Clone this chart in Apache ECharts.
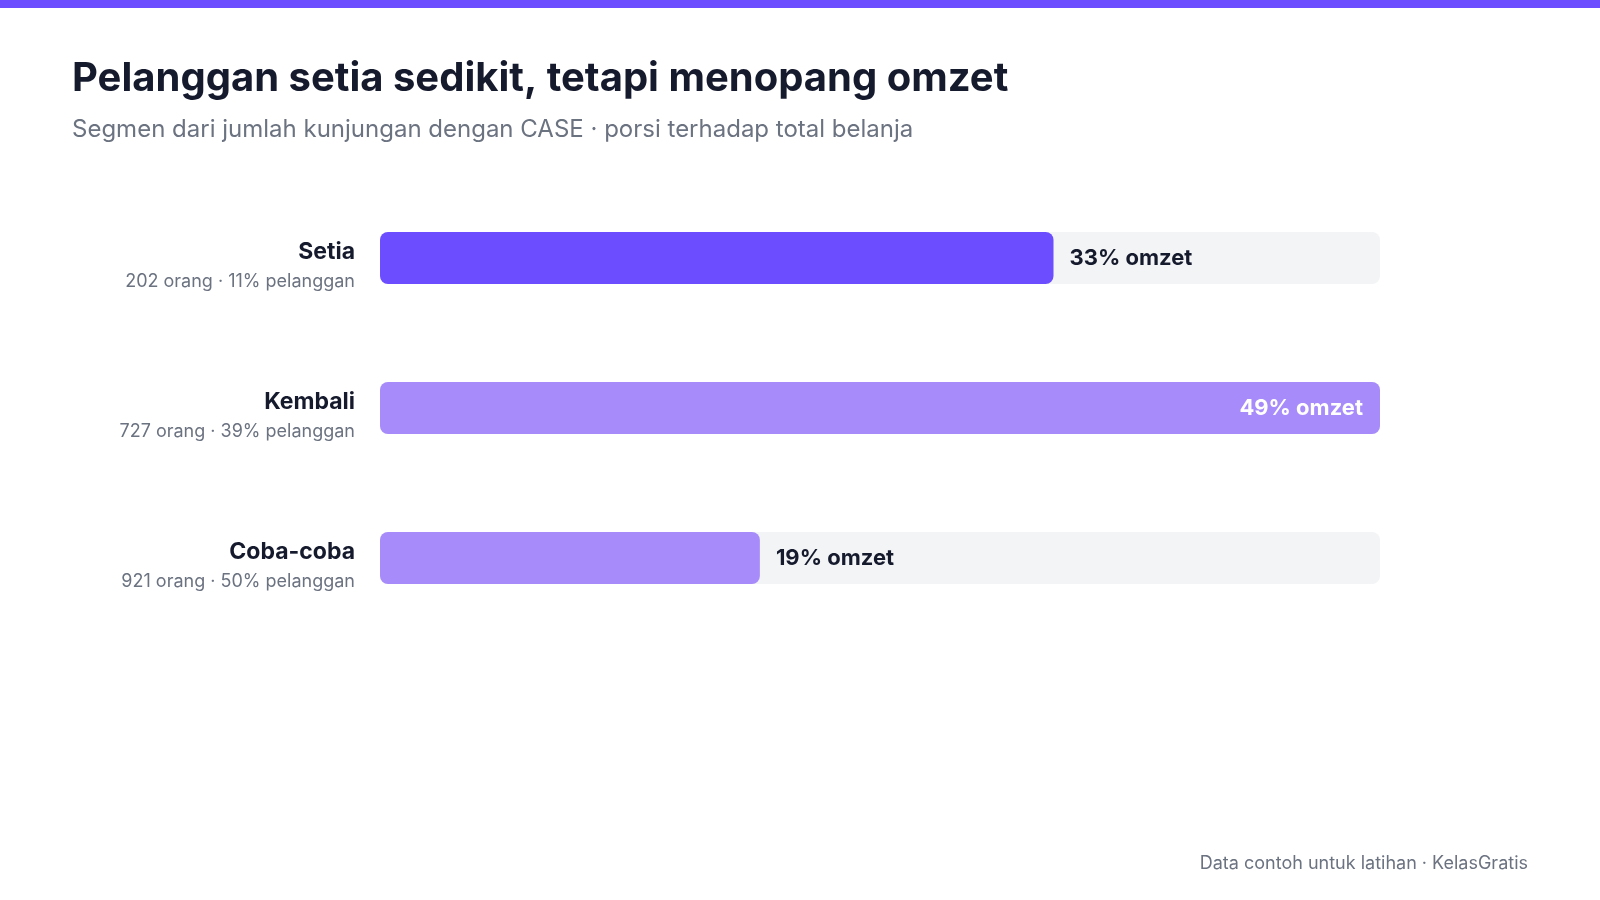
<!DOCTYPE html>
<html>
<head>
<meta charset="utf-8">
<script src="https://cdn.jsdelivr.net/npm/echarts@6/dist/echarts.min.js"></script>
<style>
  html, body { margin: 0; padding: 0; background: #fff; }
  #chart { width: 1600px; height: 900px; }
</style>
</head>
<body>
<div id="chart"></div>
<script>
// data
const segments = ['Setia', 'Kembali', 'Coba-coba'];
const customers = [202, 727, 921];
const customerShare = [11, 39, 50];
const revenueShare = [32.8, 48.7, 18.5];

const FONT = 'Inter, "Noto Sans", sans-serif';
const trackMax = Math.max(...revenueShare);

const chart = echarts.init(document.getElementById('chart'), null, { renderer: 'canvas' });

// label per bar: full bar gets label inside, others outside
const barData = revenueShare.map((v, i) => {
  const full = v === trackMax;
  return {
    value: v,
    itemStyle: { color: i === 0 ? '#6c4dff' : '#a78bfa' },
    label: full
      ? { position: 'insideRight', distance: 17, color: '#ffffff' }
      : { position: 'right', distance: 16, color: '#151a2d' }
  };
});

chart.setOption({
  animation: false,
  backgroundColor: '#ffffff',
  graphic: [
    { type: 'rect', left: 0, top: 0, shape: { width: 1600, height: 8 }, style: { fill: '#6c4dff' } }
  ],
  title: [
    {
      text: 'Pelanggan setia sedikit, tetapi menopang omzet',
      subtext: 'Segmen dari jumlah kunjungan dengan CASE · porsi terhadap total belanja',
      left: 67,
      top: 54,
      itemGap: 19,
      textStyle: { fontFamily: FONT, fontSize: 40, fontWeight: 'bold', color: '#151a2d' },
      subtextStyle: { fontFamily: FONT, fontSize: 24, color: '#6b7280' }
    },
    {
      text: 'Data contoh untuk latihan · KelasGratis',
      right: 67,
      top: 850,
      textStyle: { fontFamily: FONT, fontSize: 18, fontWeight: 'normal', color: '#6b7280' }
    }
  ],
  grid: { left: 380, right: 220, top: 183, bottom: 267, containLabel: false },
  xAxis: {
    type: 'value',
    min: 0,
    max: trackMax,
    show: false
  },
  yAxis: {
    type: 'category',
    data: segments,
    inverse: true,
    axisLine: { show: false },
    axisTick: { show: false },
    axisLabel: {
      margin: 25,
      align: 'right',
      formatter: (name, idx) =>
        '{n|' + name + '}\n{s|' + customers[idx] + ' orang · ' + customerShare[idx] + '% pelanggan}',
      rich: {
        n: { fontFamily: FONT, fontSize: 23, fontWeight: 'bold', color: '#151a2d', lineHeight: 32, align: 'right', padding: [16, 0, 0, 0] },
        s: { fontFamily: FONT, fontSize: 18, color: '#6b7280', lineHeight: 27, align: 'right', padding: [16, 0, 0, 0] }
      }
    }
  },
  series: [
    {
      name: 'track',
      type: 'bar',
      data: revenueShare.map(() => trackMax),
      barWidth: 52,
      barGap: '-100%',
      silent: true,
      itemStyle: { color: '#f3f4f6', borderRadius: 8 },
      z: 1
    },
    {
      name: 'omzet',
      type: 'bar',
      data: barData,
      barWidth: 52,
      itemStyle: { borderRadius: 8 },
      label: {
        show: true,
        fontFamily: FONT,
        fontSize: 22,
        fontWeight: 'bold',
        formatter: p => Math.round(p.value) + '% omzet'
      },
      z: 2
    }
  ]
});
</script>
</body>
</html>
